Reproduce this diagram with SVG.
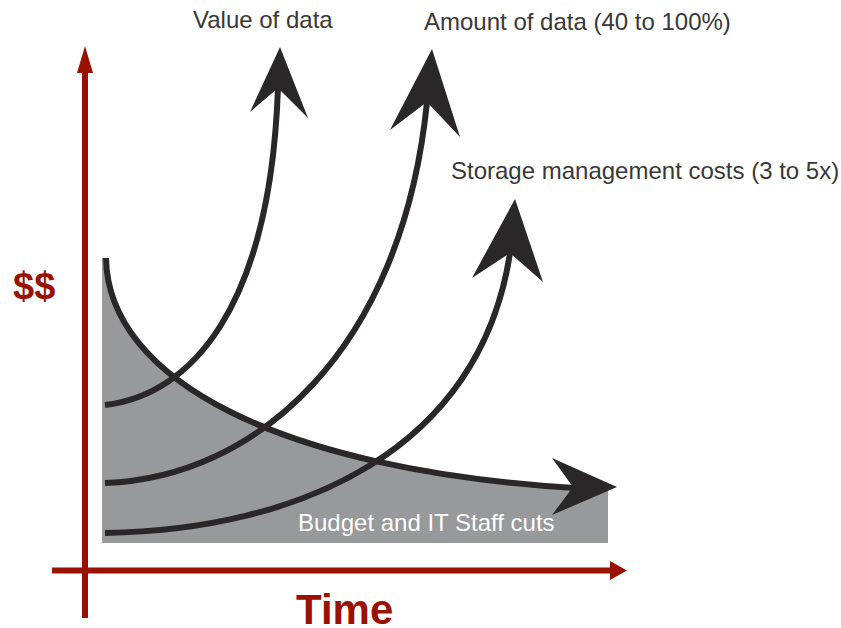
<svg xmlns="http://www.w3.org/2000/svg" width="841" height="628" viewBox="0 0 841 628">
<style>
.curve{fill:none;stroke:#2a2728;stroke-width:6}
.head{fill:#2a2728}
.axis{stroke:#991100;stroke-width:6;fill:none}
.axhead{fill:#991100}
.lbl{font-family:"Liberation Sans",Arial,sans-serif;font-size:24px;fill:#383838}
.big{font-family:"Liberation Sans",Arial,sans-serif;font-weight:bold;fill:#991100}
</style>
<rect width="841" height="628" fill="#ffffff"/>
<g id="area">
<path d="M102,258 L106,258 C108,380 280,470 575,488 L608,489 L608,543 L102,543 Z" fill="#97999b"/>
</g>
<g id="axes">
<line class="axis" x1="85" y1="618" x2="85" y2="70"/>
<polygon class="axhead" points="85,46 93,73 77,73"/>
<line class="axis" x1="52" y1="570.5" x2="612" y2="570.5"/>
<polygon class="axhead" points="627,570.5 610,561 610,580"/>
</g>
<g id="connectors">
<path class="curve" d="M106,258 C108,380 280,470 575,488"/>
<path class="curve" d="M105,405 C190,395 270,310 278,88"/>
<path class="curve" d="M105,483 C255,478 402,352 427,102"/>
<path class="curve" d="M105,533 C300,530 480,450 510,253"/>
</g>
<g id="arrowheads">
<polygon class="head" points="280,47 308,118 278,88 250,112"/>
<polygon class="head" points="432,49 460,137 427,102 390,130"/>
<polygon class="head" points="515,199 543,282 510,253 472,278"/>
<polygon class="head" points="617,487 552,515 573,487 552,458"/>
</g>
<g id="labels">
<text class="lbl" x="193" y="28">Value of data</text>
<text class="lbl" x="424" y="30">Amount of data (40 to 100%)</text>
<text class="lbl" x="451" y="179">Storage management costs (3 to 5x)</text>
<text class="lbl" x="298" y="531" style="fill:#ffffff">Budget and IT Staff cuts</text>
<text class="big" x="13" y="299" font-size="38">$$</text>
<text class="big" x="296" y="624" font-size="42">Time</text>
</g>
</svg>
